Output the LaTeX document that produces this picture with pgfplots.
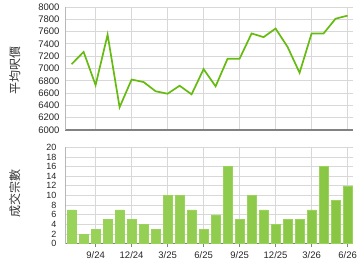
\documentclass[border=0pt]{standalone}
\usepackage{pgfplots}
\pgfplotsset{compat=1.18}
\usepackage{fontspec}
\setmainfont{Liberation Sans}
\newfontfamily\cjk{Noto Sans CJK TC}
\definecolor{linegreen}{HTML}{66BB11}
\definecolor{barlight}{HTML}{9AD35A}
\definecolor{bardark}{HTML}{5AA50C}
\definecolor{gridgray}{HTML}{D8D8D8}
\definecolor{axgray}{HTML}{999999}
\begin{document}
\begin{tikzpicture}
\useasboundingbox (0pt,0pt) rectangle (360pt,270pt);
\pgfplotsset{
  common/.style={
    scale only axis,
    width=288pt,
    anchor=south west,
    xmin=-0.55, xmax=23.45,
    xtick={2,5,8,11,14,17,20,23},
    axis x line*=bottom,
    axis y line*=left,
    x axis line style={draw=axgray!85!black, line width=1.3pt},
    y axis line style={draw=axgray!70, line width=0.8pt},
    grid=major,
    major grid style={draw=gridgray, line width=0.8pt},
    ytick style={draw=none},
    /pgf/number format/assume math mode=true,
    tick label style={font=\fontsize{9.5}{11}\selectfont, text=black!85},
    clip=false,
  }
}
\begin{axis}[common,
  at={(65pt,140pt)}, height=123pt,
  ymin=6000, ymax=8000, ytick={6000,6200,...,8000},
  /pgf/number format/.cd, 1000 sep={}, /pgfplots/.cd,
  xticklabels={}, xtick style={draw=none},
  yticklabel style={xshift=-2pt},
  ylabel={\cjk 平均呎價},
  ylabel style={at={(axis description cs:-0.174,0.485)}, anchor=center, font=\fontsize{12}{14}\selectfont, text=black!80},
]
\addplot[color=linegreen, line width=1.7pt, mark=none] coordinates {
(0,7070) (1,7270) (2,6730) (3,7550) (4,6370) (5,6820) (6,6780) (7,6630)
(8,6590) (9,6720) (10,6580) (11,6990) (12,6710) (13,7160) (14,7160) (15,7570)
(16,7510) (17,7650) (18,7350) (19,6930) (20,7570) (21,7570) (22,7810) (23,7860)
};
\end{axis}
\begin{axis}[common,
  at={(65pt,26.3pt)}, height=96.4pt,
  ymin=0, ymax=20, ytick={0,2,...,20},
  xticklabels={9/24,12/24,3/25,6/25,9/25,12/25,3/26,6/26},
  xtick style={draw=axgray!85!black, line width=0.8pt},
  major tick length=3pt, tick align=outside,
  yticklabel style={xshift=-2pt, font=\fontsize{9}{10}\selectfont},
  xticklabel style={yshift=-1pt},
  ylabel={\cjk 成交宗數},
  ylabel style={at={(axis description cs:-0.174,0.516)}, anchor=center, font=\fontsize{12}{14}\selectfont, text=black!80},
]
\addplot[ybar, bar width=8.5pt, draw=barlight, line width=0.4pt,
  left color=barlight, middle color=bardark, right color=barlight!70!bardark] coordinates {
(0,7) (1,2) (2,3) (3,5) (4,7) (5,5) (6,4) (7,3)
(8,10) (9,10) (10,7) (11,3) (12,6) (13,16) (14,5) (15,10)
(16,7) (17,4) (18,5) (19,5) (20,7) (21,16) (22,9) (23,12)
};
\end{axis}
\end{tikzpicture}
\end{document}
